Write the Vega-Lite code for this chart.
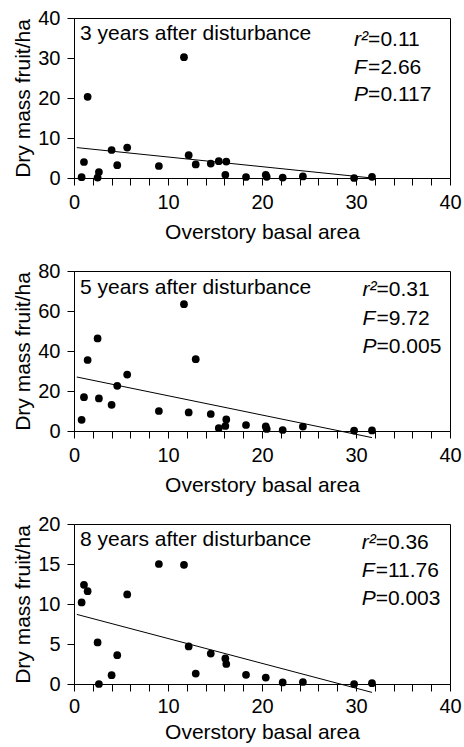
{
  "$schema": "https://vega.github.io/schema/vega-lite/v6.json",
  "background": "white",
  "padding": {"left": 12, "top": 7, "right": 2, "bottom": 0},
  "spacing": 17,
  "config": {
    "font": "Liberation Sans",
    "view": {"stroke": "black", "strokeWidth": 1},
    "axis": {
      "grid": false,
      "domainColor": "black",
      "tickColor": "black",
      "tickSize": 7,
      "labelColor": "black",
      "titleColor": "black",
      "labelFontSize": 20,
      "titleFontSize": 21,
      "titleFontWeight": "normal",
      "labelPadding": 7,
      "labelFlush": false
    },
    "axisX": {"titlePadding": 9},
    "axisY": {"titlePadding": 4}
  },
  "datasets": {
    "pts": [
      {"year": 3, "basal": 0.81, "fruit": 0.2},
      {"year": 3, "basal": 1.06, "fruit": 4.0},
      {"year": 3, "basal": 1.45, "fruit": 20.3},
      {"year": 3, "basal": 2.51, "fruit": 0.1},
      {"year": 3, "basal": 2.65, "fruit": 1.5},
      {"year": 3, "basal": 4.0, "fruit": 7.0},
      {"year": 3, "basal": 4.6, "fruit": 3.2},
      {"year": 3, "basal": 5.66, "fruit": 7.6},
      {"year": 3, "basal": 9.03, "fruit": 3.0},
      {"year": 3, "basal": 11.7, "fruit": 30.2},
      {"year": 3, "basal": 12.2, "fruit": 5.7},
      {"year": 3, "basal": 12.95, "fruit": 3.4},
      {"year": 3, "basal": 14.55, "fruit": 3.6},
      {"year": 3, "basal": 15.4, "fruit": 4.2},
      {"year": 3, "basal": 16.2, "fruit": 4.1},
      {"year": 3, "basal": 16.1, "fruit": 0.8},
      {"year": 3, "basal": 18.3, "fruit": 0.25},
      {"year": 3, "basal": 20.4, "fruit": 0.8},
      {"year": 3, "basal": 20.5, "fruit": 0.3},
      {"year": 3, "basal": 22.2, "fruit": 0.1},
      {"year": 3, "basal": 24.35, "fruit": 0.4},
      {"year": 3, "basal": 29.8, "fruit": 0.0},
      {"year": 3, "basal": 31.7, "fruit": 0.3},
      {"year": 5, "basal": 0.81, "fruit": 5.6},
      {"year": 5, "basal": 1.06, "fruit": 16.9},
      {"year": 5, "basal": 1.45, "fruit": 35.5},
      {"year": 5, "basal": 2.51, "fruit": 46.3},
      {"year": 5, "basal": 2.65, "fruit": 16.3},
      {"year": 5, "basal": 4.0, "fruit": 13.1},
      {"year": 5, "basal": 4.6, "fruit": 22.6},
      {"year": 5, "basal": 5.66, "fruit": 28.2},
      {"year": 5, "basal": 9.03, "fruit": 10.0},
      {"year": 5, "basal": 11.7, "fruit": 63.4},
      {"year": 5, "basal": 12.2, "fruit": 9.3},
      {"year": 5, "basal": 12.95, "fruit": 35.9},
      {"year": 5, "basal": 14.55, "fruit": 8.5},
      {"year": 5, "basal": 15.4, "fruit": 1.5},
      {"year": 5, "basal": 16.1, "fruit": 2.5},
      {"year": 5, "basal": 16.2, "fruit": 5.8},
      {"year": 5, "basal": 18.3, "fruit": 3.0},
      {"year": 5, "basal": 20.4, "fruit": 2.3},
      {"year": 5, "basal": 20.5, "fruit": 1.0},
      {"year": 5, "basal": 22.2, "fruit": 0.5},
      {"year": 5, "basal": 24.35, "fruit": 2.2},
      {"year": 5, "basal": 29.8, "fruit": 0.2},
      {"year": 5, "basal": 31.7, "fruit": 0.3},
      {"year": 8, "basal": 0.81, "fruit": 10.2},
      {"year": 8, "basal": 1.06, "fruit": 12.4},
      {"year": 8, "basal": 1.45, "fruit": 11.6},
      {"year": 8, "basal": 2.51, "fruit": 5.2},
      {"year": 8, "basal": 2.65, "fruit": 0.0},
      {"year": 8, "basal": 4.0, "fruit": 1.1},
      {"year": 8, "basal": 4.6, "fruit": 3.6},
      {"year": 8, "basal": 5.66, "fruit": 11.2},
      {"year": 8, "basal": 9.03, "fruit": 15.0},
      {"year": 8, "basal": 11.7, "fruit": 14.9},
      {"year": 8, "basal": 12.2, "fruit": 4.7},
      {"year": 8, "basal": 12.95, "fruit": 1.3},
      {"year": 8, "basal": 14.55, "fruit": 3.8},
      {"year": 8, "basal": 16.1, "fruit": 3.2},
      {"year": 8, "basal": 16.2, "fruit": 2.5},
      {"year": 8, "basal": 18.3, "fruit": 1.15},
      {"year": 8, "basal": 20.4, "fruit": 0.8},
      {"year": 8, "basal": 22.2, "fruit": 0.2},
      {"year": 8, "basal": 24.35, "fruit": 0.25},
      {"year": 8, "basal": 29.8, "fruit": 0.0},
      {"year": 8, "basal": 31.7, "fruit": 0.1}
    ],
    "fit": [
      {"year": 3, "basal": 0.3, "fruit": 7.6},
      {"year": 3, "basal": 31.7, "fruit": 0.0},
      {"year": 5, "basal": 0.3, "fruit": 27.0},
      {"year": 5, "basal": 31.7, "fruit": -3.3},
      {"year": 8, "basal": 0.3, "fruit": 8.7},
      {"year": 8, "basal": 31.7, "fruit": -1.05}
    ],
    "notes": [
      {"year": 3, "label": "3 years after disturbance", "sym": ["r²", "F", "P"], "rest": ["=0.11", "=2.66", "=0.117"]},
      {"year": 5, "label": "5 years after disturbance", "sym": ["r²", "F", "P"], "rest": ["=0.31", "=9.72", "=0.005"]},
      {"year": 8, "label": "8 years after disturbance", "sym": ["r²", "F", "P"], "rest": ["=0.36", "=11.76", "=0.003"]}
    ]
  },
  "vconcat": [
    {
      "width": 376,
      "height": 160,
      "resolve": {"axis": {"x": "independent", "y": "independent"}},
      "layer": [
        {
          "data": {"name": "pts"},
          "transform": [{"filter": "datum.year == 3"}],
          "mark": {"type": "circle", "size": 60, "color": "black", "opacity": 1},
          "encoding": {
            "x": {"field": "basal", "type": "quantitative", "scale": {"domain": [0, 40], "nice": false},
                  "axis": {"title": "Overstory basal area", "values": [0,2,4,6,8,10,12,14,16,18,20,22,24,26,28,30,32,34,36,38,40], "labelExpr": "datum.value % 10 === 0 ? datum.label : ''"}},
            "y": {"field": "fruit", "type": "quantitative", "scale": {"domain": [0, 40], "nice": false},
                  "axis": {"title": "Dry mass fruit/ha", "values": [0, 10, 20, 30, 40]}}
          }
        },
        {
          "data": {"name": "fit"},
          "transform": [{"filter": "datum.year == 3"}],
          "mark": {"type": "line", "color": "black", "strokeWidth": 1},
          "encoding": {
            "x": {"field": "basal", "type": "quantitative", "axis": null},
            "y": {"field": "fruit", "type": "quantitative", "axis": null}
          }
        },
        {
          "data": {"name": "notes"},
          "transform": [{"filter": "datum.year == 3"}],
          "mark": {"type": "text", "align": "left", "baseline": "alphabetic", "fontSize": 21, "color": "black"},
          "encoding": {"x": {"datum": 0.64, "type": "quantitative", "axis": null}, "y": {"datum": 34.4, "type": "quantitative", "axis": null}, "text": {"field": "label"}}
        },
        {
          "data": {"name": "notes"},
          "transform": [{"filter": "datum.year == 3"}],
          "mark": {"type": "text", "align": "left", "baseline": "alphabetic", "fontSize": 21, "fontStyle": "italic", "lineHeight": 27.5, "color": "black"},
          "encoding": {"x": {"datum": 29.8, "type": "quantitative", "axis": null}, "y": {"datum": 33, "type": "quantitative", "axis": null}, "text": {"field": "sym"}}
        },
        {
          "data": {"name": "notes"},
          "transform": [{"filter": "datum.year == 3"}],
          "mark": {"type": "text", "align": "left", "baseline": "alphabetic", "fontSize": 21, "lineHeight": 27.5, "dx": 14, "color": "black"},
          "encoding": {"x": {"datum": 29.8, "type": "quantitative", "axis": null}, "y": {"datum": 33, "type": "quantitative", "axis": null}, "text": {"field": "rest"}}
        }
      ]
    },
    {
      "width": 376,
      "height": 160,
      "resolve": {"axis": {"x": "independent", "y": "independent"}},
      "layer": [
        {
          "data": {"name": "pts"},
          "transform": [{"filter": "datum.year == 5"}],
          "mark": {"type": "circle", "size": 60, "color": "black", "opacity": 1},
          "encoding": {
            "x": {"field": "basal", "type": "quantitative", "scale": {"domain": [0, 40], "nice": false},
                  "axis": {"title": "Overstory basal area", "values": [0,2,4,6,8,10,12,14,16,18,20,22,24,26,28,30,32,34,36,38,40], "labelExpr": "datum.value % 10 === 0 ? datum.label : ''"}},
            "y": {"field": "fruit", "type": "quantitative", "scale": {"domain": [0, 80], "nice": false},
                  "axis": {"title": "Dry mass fruit/ha", "values": [0, 20, 40, 60, 80]}}
          }
        },
        {
          "data": {"name": "fit"},
          "transform": [{"filter": "datum.year == 5"}],
          "mark": {"type": "line", "color": "black", "strokeWidth": 1},
          "encoding": {
            "x": {"field": "basal", "type": "quantitative", "axis": null},
            "y": {"field": "fruit", "type": "quantitative", "axis": null}
          }
        },
        {
          "data": {"name": "notes"},
          "transform": [{"filter": "datum.year == 5"}],
          "mark": {"type": "text", "align": "left", "baseline": "alphabetic", "fontSize": 21, "color": "black"},
          "encoding": {"x": {"datum": 0.64, "type": "quantitative", "axis": null}, "y": {"datum": 68.75, "type": "quantitative", "axis": null}, "text": {"field": "label"}}
        },
        {
          "data": {"name": "notes"},
          "transform": [{"filter": "datum.year == 5"}],
          "mark": {"type": "text", "align": "left", "baseline": "alphabetic", "fontSize": 21, "fontStyle": "italic", "lineHeight": 28.5, "color": "black"},
          "encoding": {"x": {"datum": 30.7, "type": "quantitative", "axis": null}, "y": {"datum": 67.5, "type": "quantitative", "axis": null}, "text": {"field": "sym"}}
        },
        {
          "data": {"name": "notes"},
          "transform": [{"filter": "datum.year == 5"}],
          "mark": {"type": "text", "align": "left", "baseline": "alphabetic", "fontSize": 21, "lineHeight": 28.5, "dx": 14, "color": "black"},
          "encoding": {"x": {"datum": 30.7, "type": "quantitative", "axis": null}, "y": {"datum": 67.5, "type": "quantitative", "axis": null}, "text": {"field": "rest"}}
        }
      ]
    },
    {
      "width": 376,
      "height": 160,
      "resolve": {"axis": {"x": "independent", "y": "independent"}},
      "layer": [
        {
          "data": {"name": "pts"},
          "transform": [{"filter": "datum.year == 8"}],
          "mark": {"type": "circle", "size": 60, "color": "black", "opacity": 1},
          "encoding": {
            "x": {"field": "basal", "type": "quantitative", "scale": {"domain": [0, 40], "nice": false},
                  "axis": {"title": "Overstory basal area", "titlePadding": 5, "labelPadding": 5, "values": [0,2,4,6,8,10,12,14,16,18,20,22,24,26,28,30,32,34,36,38,40], "labelExpr": "datum.value % 10 === 0 ? datum.label : ''"}},
            "y": {"field": "fruit", "type": "quantitative", "scale": {"domain": [0, 20], "nice": false},
                  "axis": {"title": "Dry mass fruit/ha", "values": [0, 5, 10, 15, 20]}}
          }
        },
        {
          "data": {"name": "fit"},
          "transform": [{"filter": "datum.year == 8"}],
          "mark": {"type": "line", "color": "black", "strokeWidth": 1},
          "encoding": {
            "x": {"field": "basal", "type": "quantitative", "axis": null},
            "y": {"field": "fruit", "type": "quantitative", "axis": null}
          }
        },
        {
          "data": {"name": "notes"},
          "transform": [{"filter": "datum.year == 8"}],
          "mark": {"type": "text", "align": "left", "baseline": "alphabetic", "fontSize": 21, "color": "black"},
          "encoding": {"x": {"datum": 0.64, "type": "quantitative", "axis": null}, "y": {"datum": 17.2, "type": "quantitative", "axis": null}, "text": {"field": "label"}}
        },
        {
          "data": {"name": "notes"},
          "transform": [{"filter": "datum.year == 8"}],
          "mark": {"type": "text", "align": "left", "baseline": "alphabetic", "fontSize": 21, "fontStyle": "italic", "lineHeight": 28, "color": "black"},
          "encoding": {"x": {"datum": 30.6, "type": "quantitative", "axis": null}, "y": {"datum": 16.9, "type": "quantitative", "axis": null}, "text": {"field": "sym"}}
        },
        {
          "data": {"name": "notes"},
          "transform": [{"filter": "datum.year == 8"}],
          "mark": {"type": "text", "align": "left", "baseline": "alphabetic", "fontSize": 21, "lineHeight": 28, "dx": 14, "color": "black"},
          "encoding": {"x": {"datum": 30.6, "type": "quantitative", "axis": null}, "y": {"datum": 16.9, "type": "quantitative", "axis": null}, "text": {"field": "rest"}}
        }
      ]
    }
  ]
}
